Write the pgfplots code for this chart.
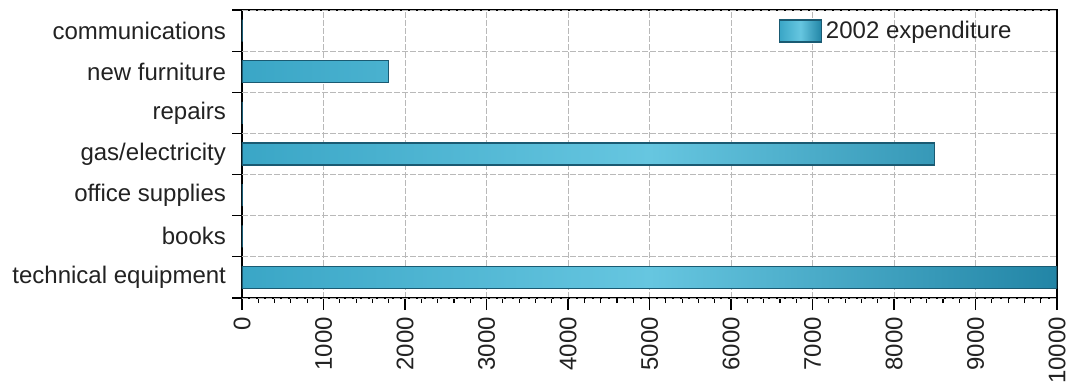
\documentclass[border=0pt]{standalone}
\usepackage{pgfplots}
\pgfplotsset{compat=1.18}
\usepackage{fontspec}
\setmainfont{Liberation Sans}
\definecolor{barL}{HTML}{3AA6C6}
\definecolor{barM}{HTML}{66C6E0}
\definecolor{barR}{HTML}{2285A6}
\definecolor{barEdge}{HTML}{1A5A72}
\definecolor{txt}{HTML}{222222}
\begin{document}
\begin{tikzpicture}
\path[use as bounding box] (-121pt,-44pt) rectangle (414pt,149pt);
\begin{axis}[
  at={(0,0)}, anchor=south west,
  scale only axis, width=407.5pt, height=144pt,
  xbar, bar width=11pt,
  xmin=0, xmax=10000, ymin=-0.5, ymax=6.5,
  xtick={0,1000,...,10000}, minor x tick num=4,
  ytick={0,...,6},
  yticklabels={technical equipment,books,office supplies,gas/electricity,repairs,new furniture,communications},
  major y tick style={draw=none},
  extra y ticks={-0.5,0.5,...,6.5},
  extra y tick labels={},
  extra y tick style={grid=major, major y tick style={draw=black, line width=0.6pt}, major tick length=5pt},
  xmajorgrids,
  grid style={gray!55, line width=0.4pt, dash pattern=on 3pt off 1pt},
  tick align=outside,
  xtick pos=bottom, ytick pos=left,
  major tick length=6pt, minor tick length=2.5pt,
  tick style={black, line width=0.6pt},
  axis line style={black, line width=0.8pt},
  scaled x ticks=false,
  /pgf/number format/assume math mode=true,
  xticklabel={\pgfmathprintnumber[fixed,1000 sep={}]{\tick}},
  tick label style={font=\fontsize{12}{14}\selectfont, text=txt},
  xticklabel style={rotate=90, anchor=east},
  yticklabel style={xshift=1.5pt},
  legend style={draw=none, fill=none, at={(0.952,0.985)}, anchor=north east,
    font=\fontsize{12}{14}\selectfont, text=txt, inner sep=1pt},
  legend image code/.code={\draw[#1] (0pt,-5.5pt) rectangle (21pt,5.5pt);},
]
\addplot[draw=barEdge, line width=0.6pt, left color=barL, right color=barR, middle color=barM]
  coordinates {(10000,0) (0,1) (0,2) (8500,3) (0,4) (1800,5) (0,6)};
\addlegendentry{2002 expenditure}
\end{axis}
\end{tikzpicture}
\end{document}
